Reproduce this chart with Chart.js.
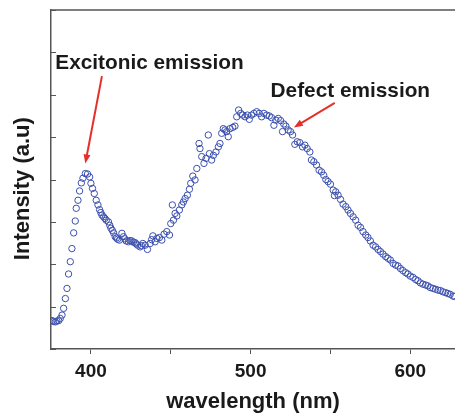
<!DOCTYPE html>
<html>
<head>
<meta charset="utf-8">
<script src="https://cdn.jsdelivr.net/npm/chart.js@4.4.0/dist/chart.umd.min.js"></script>
<style>
  html, body { margin: 0; padding: 0; background: #fff; }
  #wrap { width: 455px; height: 415px; }
</style>
</head>
<body>
<div id="wrap"><canvas id="plChart" width="455" height="415"></canvas></div>
<script>
// wavelength (nm)
const wavelength = [
  375.6, 376.6, 377.7, 378.7, 379.8, 380.8, 381.9, 382.9, 384.0, 385.0, 386.0, 387.1, 388.1, 389.2,
  390.2, 390.8, 391.9, 392.9, 394.0, 395.0, 396.5, 397.9, 399.2, 400.0, 401.0, 402.1, 403.3, 404.4,
  405.4, 406.2, 406.9, 407.9, 408.8, 409.6, 411.0, 411.8, 412.5, 413.4, 414.2, 415.2, 416.0, 416.7,
  417.9, 419.4, 420.4, 421.2, 422.1, 423.5, 424.5, 425.6, 426.6, 427.7, 428.4, 429.2, 430.8, 431.6,
  432.5, 434.0, 435.4, 437.1, 438.0, 438.8, 440.2, 441.3, 442.9, 444.4, 445.8, 447.5, 449.2, 450.0,
  451.0, 451.7, 452.7, 453.8, 455.4, 456.9, 457.9, 459.0, 460.4, 461.7, 462.5, 463.8, 465.2, 466.3,
  467.7, 468.3, 469.4, 470.8, 472.1, 473.5, 474.2, 475.6, 476.7, 478.3, 479.8, 480.8, 481.9, 482.9,
  484.0, 485.0, 486.0, 487.1, 488.8, 490.2, 491.3, 492.5, 493.8, 495.0, 496.5, 498.0, 499.2, 500.6,
  502.1, 503.8, 505.4, 506.9, 508.3, 510.0, 511.7, 513.1, 514.6, 515.8, 517.3, 518.8, 520.0, 520.8,
  522.1, 523.5, 525.0, 526.3, 527.7, 529.2, 530.8, 532.5, 534.0, 535.4, 537.1, 538.1, 539.6, 541.3,
  542.9, 544.4, 545.8, 547.1, 548.5, 550.0, 551.7, 552.5, 553.3, 554.8, 556.3, 557.9, 559.6, 561.0,
  562.5, 564.2, 565.8, 567.3, 568.8, 570.4, 572.1, 573.5, 575.0, 576.7, 578.3, 579.8, 581.3, 582.9,
  584.6, 586.0, 587.5, 589.2, 590.8, 592.3, 593.8, 595.4, 597.1, 598.5, 600.0, 601.7, 603.3, 604.8,
  606.3, 607.9, 609.6, 611.0, 612.5, 614.2, 615.8, 617.3, 618.8, 620.4, 622.1, 623.5, 625.0, 626.7,
  627.8
];
// intensity (a.u.), same order
const intensity = [
  0.67, 0.65, 0.64, 0.66, 0.67, 0.72, 0.80, 0.96, 1.19, 1.43, 1.77, 2.06, 2.37, 2.74,
  3.02, 3.32, 3.51, 3.73, 3.92, 4.03, 4.14, 4.13, 4.06, 3.91, 3.79, 3.67, 3.51, 3.40,
  3.29, 3.22, 3.16, 3.12, 3.08, 3.04, 3.00, 2.92, 2.85, 2.80, 2.74, 2.65, 2.62, 2.59,
  2.57, 2.73, 2.65, 2.60, 2.55, 2.53, 2.56, 2.55, 2.52, 2.51, 2.48, 2.45, 2.41, 2.44,
  2.49, 2.45, 2.35, 2.49, 2.58, 2.67, 2.53, 2.61, 2.63, 2.57, 2.71, 2.77, 2.69, 2.96,
  3.40, 3.04, 3.20, 3.14, 3.28, 3.40, 3.47, 3.55, 3.63, 3.77, 3.91, 4.08, 3.99, 4.26,
  4.85, 4.73, 4.54, 4.38, 4.50, 5.05, 4.61, 4.46, 4.57, 4.65, 4.77, 4.85, 5.09, 5.20,
  5.17, 5.13, 5.01, 5.20, 5.23, 5.26, 5.48, 5.64, 5.56, 5.52, 5.48, 5.52, 5.42, 5.52,
  5.56, 5.60, 5.56, 5.48, 5.56, 5.52, 5.50, 5.46, 5.28, 5.40, 5.44, 5.39, 5.13, 5.31,
  5.26, 5.17, 5.13, 5.05, 4.83, 4.89, 4.87, 4.77, 4.81, 4.73, 4.65, 4.46, 4.42, 4.34,
  4.22, 4.18, 4.10, 4.00, 3.95, 3.89, 3.75, 3.62, 3.71, 3.63, 3.53, 3.42, 3.36, 3.28,
  3.20, 3.12, 3.04, 2.92, 2.87, 2.77, 2.69, 2.63, 2.55, 2.45, 2.41, 2.35, 2.30, 2.24,
  2.18, 2.14, 2.10, 2.02, 1.98, 1.96, 1.90, 1.85, 1.80, 1.77, 1.72, 1.69, 1.64, 1.61,
  1.56, 1.53, 1.51, 1.49, 1.45, 1.43, 1.41, 1.39, 1.38, 1.35, 1.33, 1.31, 1.29, 1.25,
  1.24
];
const xTickLabels = [400, 500, 600];

// labels + arrows: [text, textX, textY, tailX, tailY, tipX, tipY]
const notes = [
  ['Excitonic emission', 377.7, 6.74, 406.9, 6.44, 396.5, 4.38],
  ['Defect emission', 512.5, 6.09, 552.7, 5.81, 527.1, 5.23]
];

const pts = wavelength.map((w, i) => ({ x: w, y: intensity[i] }));
const FONT = '"Liberation Sans", Arial, sans-serif';

const frameAndNotes = {
  id: 'frameAndNotes',
  afterDraw(chart) {
    const ctx = chart.ctx;
    const area = chart.chartArea;
    const xs = chart.scales.x, ys = chart.scales.y;
    ctx.save();
    // top frame line
    ctx.strokeStyle = '#555';
    ctx.lineWidth = 1.5;
    ctx.beginPath();
    ctx.moveTo(area.left, area.top);
    ctx.lineTo(area.right, area.top);
    ctx.stroke();
    // inward y ticks
    ctx.lineWidth = 1;
    ys.ticks.forEach(t => {
      const py = Math.round(ys.getPixelForValue(t.value)) + 0.5;
      ctx.beginPath();
      ctx.moveTo(area.left, py);
      ctx.lineTo(area.left + 5, py);
      ctx.stroke();
    });
    // annotations
    notes.forEach(n => {
      ctx.fillStyle = '#1a1a1a';
      ctx.font = 'bold 20.8px ' + FONT;
      ctx.textBaseline = 'middle';
      ctx.textAlign = 'left';
      ctx.fillText(n[0], xs.getPixelForValue(n[1]), ys.getPixelForValue(n[2]));

      const x1 = xs.getPixelForValue(n[3]), y1 = ys.getPixelForValue(n[4]);
      const x2 = xs.getPixelForValue(n[5]), y2 = ys.getPixelForValue(n[6]);
      const ang = Math.atan2(y2 - y1, x2 - x1);
      ctx.strokeStyle = '#e5302a';
      ctx.fillStyle = '#e5302a';
      ctx.lineWidth = 2;
      ctx.beginPath();
      ctx.moveTo(x1, y1);
      ctx.lineTo(x2 - 7 * Math.cos(ang), y2 - 7 * Math.sin(ang));
      ctx.stroke();
      ctx.beginPath();
      ctx.moveTo(x2, y2);
      ctx.lineTo(x2 - 9 * Math.cos(ang) + 3.5 * Math.sin(ang), y2 - 9 * Math.sin(ang) - 3.5 * Math.cos(ang));
      ctx.lineTo(x2 - 9 * Math.cos(ang) - 3.5 * Math.sin(ang), y2 - 9 * Math.sin(ang) + 3.5 * Math.cos(ang));
      ctx.closePath();
      ctx.fill();
    });
    ctx.restore();
  }
};

var chrt = document.getElementById('plChart').getContext('2d');
const chartConfig = {
  type: 'scatter',
  data: {
    datasets: [{
      label: 'PL',
      data: pts,
      pointStyle: 'circle',
      pointRadius: 3.2,
      borderWidth: 1,
      borderColor: '#3b50ad',
      backgroundColor: 'rgba(255,255,255,0)'
    }]
  },
  options: {
    responsive: false,
    animation: false,
    devicePixelRatio: 1,
    layout: { autoPadding: false, padding: { top: 10, right: 0, bottom: 0, left: 0 } },
    plugins: { legend: { display: false }, tooltip: { enabled: false } },
    scales: {
      x: {
        type: 'linear',
        min: 375,
        max: 628,
        border: { display: true, color: '#555', width: 1.5 },
        grid: { display: true, drawOnChartArea: false, drawTicks: true, tickLength: 5, color: '#555' },
        ticks: {
          stepSize: 50,
          includeBounds: false,
          autoSkip: false,
          maxRotation: 0,
          padding: 6,
          color: '#1a1a1a',
          font: { family: FONT, size: 19, weight: 'bold' },
          callback: (v) => xTickLabels.includes(v) ? String(v) : ''
        },
        title: {
          display: true,
          text: 'wavelength (nm)',
          color: '#1a1a1a',
          padding: { top: 4, bottom: 0 },
          font: { family: FONT, size: 22, weight: 'bold' }
        },
        afterFit: (s) => { s.height = 66; s.paddingLeft = 0; s.paddingRight = 0; }
      },
      y: {
        type: 'linear',
        min: 0,
        max: 8,
        border: { display: true, color: '#555', width: 1.5 },
        grid: { display: false },
        ticks: { display: false, stepSize: 1 },
        title: {
          display: true,
          // trailing spaces nudge the rotated title a little lower, as in the figure
          text: 'Intensity (a.u)   ',
          color: '#1a1a1a',
          padding: { top: 10, bottom: 0 },
          font: { family: FONT, size: 22, weight: 'bold' }
        },
        afterFit: (s) => { s.width = 51; s.paddingTop = 0; s.paddingBottom = 0; }
      }
    }
  },
  plugins: [frameAndNotes]
};
var plChart = new Chart(chrt, chartConfig);
</script>
</body>
</html>
